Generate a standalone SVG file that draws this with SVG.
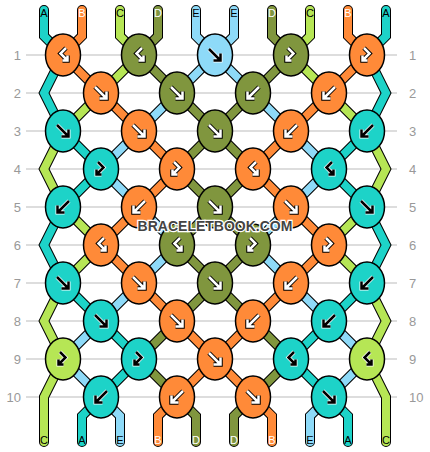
<svg xmlns="http://www.w3.org/2000/svg" xmlns:xlink="http://www.w3.org/1999/xlink" width="430" height="452" viewBox="0 0 430 452">
<style>
.grid{stroke:#bbb;stroke-width:1.2}
.num{font-family:"Liberation Sans",Arial,sans-serif;font-size:13px;fill:#999}
.lab{font-family:"Liberation Sans",Arial,sans-serif;font-size:11px;text-anchor:middle}
.s{fill:none;stroke-linejoin:miter;stroke-linecap:round}
.so{stroke:#000;stroke-width:10}
.sT{stroke:#1dd3c8;stroke-width:8}
.sO{stroke:#ff8a38;stroke-width:8}
.sG{stroke:#b6e655;stroke-width:8}
.sV{stroke:#80963e;stroke-width:8}
.sL{stroke:#8edaf8;stroke-width:8}
.k{stroke:#000;stroke-width:1.5}
.cT{fill:#1dd3c8}.cO{fill:#ff8a38}.cG{fill:#b6e655}.cV{fill:#80963e}.cL{fill:#8edaf8}
.wo{fill:none;stroke:#000;stroke-width:4.5}
.wi{fill:none;stroke:#fff;stroke-width:2.5}
.bo{fill:none;stroke:#fff;stroke-width:4}
.bi{fill:none;stroke:#000;stroke-width:2.5}
.wm{font-family:"Liberation Sans",Arial,sans-serif;font-weight:bold;font-size:14px;fill:#444;stroke:#fff;stroke-width:2.5;paint-order:stroke;text-anchor:middle}
</style>
<defs>
<path id="f" d="M-6,-6 L5,5 M5.5,-1.5 L5.5,5.5 L-1.5,5.5"/>
<path id="b" d="M6,-6 L-5,5 M-5.5,-1.5 L-5.5,5.5 L1.5,5.5"/>
<path id="fb" d="M-3,-7 L2.5,-1.5 L-4.5,5.5 M-4.5,0.5 L-4.5,5.5 L0.5,5.5"/>
<path id="bf" d="M3,-7 L-2.5,-1.5 L4.5,5.5 M4.5,0.5 L4.5,5.5 L-0.5,5.5"/>
</defs>
<g id="grid">
<line class="grid" x1="26" y1="55" x2="397" y2="55"/>
<line class="grid" x1="26" y1="93" x2="397" y2="93"/>
<line class="grid" x1="26" y1="131" x2="397" y2="131"/>
<line class="grid" x1="26" y1="169" x2="397" y2="169"/>
<line class="grid" x1="26" y1="207" x2="397" y2="207"/>
<line class="grid" x1="26" y1="245" x2="397" y2="245"/>
<line class="grid" x1="26" y1="283" x2="397" y2="283"/>
<line class="grid" x1="26" y1="321" x2="397" y2="321"/>
<line class="grid" x1="26" y1="359" x2="397" y2="359"/>
<line class="grid" x1="26" y1="397" x2="397" y2="397"/>
</g>
<g id="rownums">
<g class="num" text-anchor="end">
<text x="21" y="60">1</text><text x="21" y="98">2</text><text x="21" y="136">3</text><text x="21" y="174">4</text><text x="21" y="212">5</text><text x="21" y="250">6</text><text x="21" y="288">7</text><text x="21" y="326">8</text><text x="21" y="364">9</text><text x="21" y="402">10</text>
</g>
<g class="num">
<text x="409" y="60">1</text><text x="409" y="98">2</text><text x="409" y="136">3</text><text x="409" y="174">4</text><text x="409" y="212">5</text><text x="409" y="250">6</text><text x="409" y="288">7</text><text x="409" y="326">8</text><text x="409" y="364">9</text><text x="409" y="402">10</text>
</g>
</g>
<g id="connectors">
<g class="s so">
<path id="o1" d="M44,10 L44,36 L63,55 L44,93 L63,131 L101,169 L63,207 L44,245 L63,283 L101,321 L139,359 L101,397 L82,416 L82,442"/>
<path id="o2" d="M82,10 L82,36 L63,55 L101,93 L139,131 L177,169 L139,207 L101,245 L139,283 L177,321 L215,359 L253,397 L272,416 L272,442"/>
<path id="o3" d="M120,10 L120,36 L139,55 L101,93 L63,131 L44,169 L63,207 L101,245 L63,283 L44,321 L63,359 L44,397 L44,442"/>
<path id="o4" d="M158,10 L158,36 L139,55 L177,93 L215,131 L253,169 L215,207 L177,245 L215,283 L253,321 L291,359 L253,397 L234,416 L234,442"/>
<path id="o5" d="M196,10 L196,36 L215,55 L253,93 L291,131 L329,169 L291,207 L253,245 L291,283 L329,321 L367,359 L329,397 L310,416 L310,442"/>
<path id="o6" d="M234,10 L234,36 L215,55 L177,93 L139,131 L101,169 L139,207 L177,245 L139,283 L101,321 L63,359 L101,397 L120,416 L120,442"/>
<path id="o7" d="M272,10 L272,36 L291,55 L253,93 L215,131 L177,169 L215,207 L253,245 L215,283 L177,321 L139,359 L177,397 L196,416 L196,442"/>
<path id="o8" d="M310,10 L310,36 L291,55 L329,93 L367,131 L386,169 L367,207 L329,245 L367,283 L386,321 L367,359 L386,397 L386,442"/>
<path id="o9" d="M348,10 L348,36 L367,55 L329,93 L291,131 L253,169 L291,207 L329,245 L291,283 L253,321 L215,359 L177,397 L158,416 L158,442"/>
<path id="o10" d="M386,10 L386,36 L367,55 L386,93 L367,131 L329,169 L367,207 L386,245 L367,283 L329,321 L291,359 L329,397 L348,416 L348,442"/>
</g>
<g class="s">
<use xlink:href="#o1" href="#o1" class="sT"/>
<use xlink:href="#o2" href="#o2" class="sO"/>
<use xlink:href="#o3" href="#o3" class="sG"/>
<use xlink:href="#o4" href="#o4" class="sV"/>
<use xlink:href="#o5" href="#o5" class="sL"/>
<use xlink:href="#o6" href="#o6" class="sL"/>
<use xlink:href="#o7" href="#o7" class="sV"/>
<use xlink:href="#o8" href="#o8" class="sG"/>
<use xlink:href="#o9" href="#o9" class="sO"/>
<use xlink:href="#o10" href="#o10" class="sT"/>
</g>
</g>
<g id="labels" class="lab">
<text x="44" y="17" fill="#000">A</text><text x="82" y="17" fill="#fff">B</text><text x="120" y="17" fill="#000">C</text><text x="158" y="17" fill="#fff">D</text><text x="196" y="17" fill="#000">E</text>
<text x="234" y="17" fill="#000">E</text><text x="272" y="17" fill="#fff">D</text><text x="310" y="17" fill="#000">C</text><text x="348" y="17" fill="#fff">B</text><text x="386" y="17" fill="#000">A</text>
<text x="44" y="444" fill="#000">C</text><text x="82" y="444" fill="#000">A</text><text x="120" y="444" fill="#000">E</text><text x="158" y="444" fill="#fff">B</text><text x="196" y="444" fill="#fff">D</text>
<text x="234" y="444" fill="#fff">D</text><text x="272" y="444" fill="#fff">B</text><text x="310" y="444" fill="#000">E</text><text x="348" y="444" fill="#000">A</text><text x="386" y="444" fill="#000">C</text>
</g>
<g id="knots">
<g id="k1-1" transform="translate(63,55)"><ellipse class="k cO" rx="17.5" ry="21"/><use href="#bf" class="wo"/><use href="#bf" class="wi"/></g>
<g id="k1-2" transform="translate(139,55)"><ellipse class="k cV" rx="17.5" ry="21"/><use href="#bf" class="wo"/><use href="#bf" class="wi"/></g>
<g id="k1-3" transform="translate(215,55)"><ellipse class="k cL" rx="17.5" ry="21"/><use href="#f" class="bo"/><use href="#f" class="bi"/></g>
<g id="k1-4" transform="translate(291,55)"><ellipse class="k cV" rx="17.5" ry="21"/><use href="#fb" class="wo"/><use href="#fb" class="wi"/></g>
<g id="k1-5" transform="translate(367,55)"><ellipse class="k cO" rx="17.5" ry="21"/><use href="#fb" class="wo"/><use href="#fb" class="wi"/></g>

<g id="k2-1" transform="translate(101,93)"><ellipse class="k cO" rx="17.5" ry="21"/><use href="#f" class="wo"/><use href="#f" class="wi"/></g>
<g id="k2-2" transform="translate(177,93)"><ellipse class="k cV" rx="17.5" ry="21"/><use href="#f" class="wo"/><use href="#f" class="wi"/></g>
<g id="k2-3" transform="translate(253,93)"><ellipse class="k cV" rx="17.5" ry="21"/><use href="#b" class="wo"/><use href="#b" class="wi"/></g>
<g id="k2-4" transform="translate(329,93)"><ellipse class="k cO" rx="17.5" ry="21"/><use href="#b" class="wo"/><use href="#b" class="wi"/></g>

<g id="k3-1" transform="translate(63,131)"><ellipse class="k cT" rx="17.5" ry="21"/><use href="#f" class="bo"/><use href="#f" class="bi"/></g>
<g id="k3-2" transform="translate(139,131)"><ellipse class="k cO" rx="17.5" ry="21"/><use href="#f" class="wo"/><use href="#f" class="wi"/></g>
<g id="k3-3" transform="translate(215,131)"><ellipse class="k cV" rx="17.5" ry="21"/><use href="#f" class="wo"/><use href="#f" class="wi"/></g>
<g id="k3-4" transform="translate(291,131)"><ellipse class="k cO" rx="17.5" ry="21"/><use href="#b" class="wo"/><use href="#b" class="wi"/></g>
<g id="k3-5" transform="translate(367,131)"><ellipse class="k cT" rx="17.5" ry="21"/><use href="#b" class="bo"/><use href="#b" class="bi"/></g>

<g id="k4-1" transform="translate(101,169)"><ellipse class="k cT" rx="17.5" ry="21"/><use href="#fb" class="bo"/><use href="#fb" class="bi"/></g>
<g id="k4-2" transform="translate(177,169)"><ellipse class="k cO" rx="17.5" ry="21"/><use href="#fb" class="wo"/><use href="#fb" class="wi"/></g>
<g id="k4-3" transform="translate(253,169)"><ellipse class="k cO" rx="17.5" ry="21"/><use href="#bf" class="wo"/><use href="#bf" class="wi"/></g>
<g id="k4-4" transform="translate(329,169)"><ellipse class="k cT" rx="17.5" ry="21"/><use href="#bf" class="bo"/><use href="#bf" class="bi"/></g>

<g id="k5-1" transform="translate(63,207)"><ellipse class="k cT" rx="17.5" ry="21"/><use href="#b" class="bo"/><use href="#b" class="bi"/></g>
<g id="k5-2" transform="translate(139,207)"><ellipse class="k cO" rx="17.5" ry="21"/><use href="#b" class="wo"/><use href="#b" class="wi"/></g>
<g id="k5-3" transform="translate(215,207)"><ellipse class="k cV" rx="17.5" ry="21"/><use href="#f" class="wo"/><use href="#f" class="wi"/></g>
<g id="k5-4" transform="translate(291,207)"><ellipse class="k cO" rx="17.5" ry="21"/><use href="#f" class="wo"/><use href="#f" class="wi"/></g>
<g id="k5-5" transform="translate(367,207)"><ellipse class="k cT" rx="17.5" ry="21"/><use href="#f" class="bo"/><use href="#f" class="bi"/></g>

<g id="k6-1" transform="translate(101,245)"><ellipse class="k cO" rx="17.5" ry="21"/><use href="#bf" class="wo"/><use href="#bf" class="wi"/></g>
<g id="k6-2" transform="translate(177,245)"><ellipse class="k cV" rx="17.5" ry="21"/><use href="#bf" class="wo"/><use href="#bf" class="wi"/></g>
<g id="k6-3" transform="translate(253,245)"><ellipse class="k cV" rx="17.5" ry="21"/><use href="#fb" class="wo"/><use href="#fb" class="wi"/></g>
<g id="k6-4" transform="translate(329,245)"><ellipse class="k cO" rx="17.5" ry="21"/><use href="#fb" class="wo"/><use href="#fb" class="wi"/></g>

<g id="k7-1" transform="translate(63,283)"><ellipse class="k cT" rx="17.5" ry="21"/><use href="#f" class="bo"/><use href="#f" class="bi"/></g>
<g id="k7-2" transform="translate(139,283)"><ellipse class="k cO" rx="17.5" ry="21"/><use href="#f" class="wo"/><use href="#f" class="wi"/></g>
<g id="k7-3" transform="translate(215,283)"><ellipse class="k cV" rx="17.5" ry="21"/><use href="#f" class="wo"/><use href="#f" class="wi"/></g>
<g id="k7-4" transform="translate(291,283)"><ellipse class="k cO" rx="17.5" ry="21"/><use href="#b" class="wo"/><use href="#b" class="wi"/></g>
<g id="k7-5" transform="translate(367,283)"><ellipse class="k cT" rx="17.5" ry="21"/><use href="#b" class="bo"/><use href="#b" class="bi"/></g>

<g id="k8-1" transform="translate(101,321)"><ellipse class="k cT" rx="17.5" ry="21"/><use href="#f" class="bo"/><use href="#f" class="bi"/></g>
<g id="k8-2" transform="translate(177,321)"><ellipse class="k cO" rx="17.5" ry="21"/><use href="#f" class="wo"/><use href="#f" class="wi"/></g>
<g id="k8-3" transform="translate(253,321)"><ellipse class="k cO" rx="17.5" ry="21"/><use href="#b" class="wo"/><use href="#b" class="wi"/></g>
<g id="k8-4" transform="translate(329,321)"><ellipse class="k cT" rx="17.5" ry="21"/><use href="#b" class="bo"/><use href="#b" class="bi"/></g>

<g id="k9-1" transform="translate(63,359)"><ellipse class="k cG" rx="17.5" ry="21"/><use href="#fb" class="bo"/><use href="#fb" class="bi"/></g>
<g id="k9-2" transform="translate(139,359)"><ellipse class="k cT" rx="17.5" ry="21"/><use href="#fb" class="bo"/><use href="#fb" class="bi"/></g>
<g id="k9-3" transform="translate(215,359)"><ellipse class="k cO" rx="17.5" ry="21"/><use href="#f" class="wo"/><use href="#f" class="wi"/></g>
<g id="k9-4" transform="translate(291,359)"><ellipse class="k cT" rx="17.5" ry="21"/><use href="#bf" class="bo"/><use href="#bf" class="bi"/></g>
<g id="k9-5" transform="translate(367,359)"><ellipse class="k cG" rx="17.5" ry="21"/><use href="#bf" class="bo"/><use href="#bf" class="bi"/></g>

<g id="k10-1" transform="translate(101,397)"><ellipse class="k cT" rx="17.5" ry="21"/><use href="#b" class="bo"/><use href="#b" class="bi"/></g>
<g id="k10-2" transform="translate(177,397)"><ellipse class="k cO" rx="17.5" ry="21"/><use href="#b" class="wo"/><use href="#b" class="wi"/></g>
<g id="k10-3" transform="translate(253,397)"><ellipse class="k cO" rx="17.5" ry="21"/><use href="#f" class="wo"/><use href="#f" class="wi"/></g>
<g id="k10-4" transform="translate(329,397)"><ellipse class="k cT" rx="17.5" ry="21"/><use href="#f" class="bo"/><use href="#f" class="bi"/></g>
</g>
<text id="watermark" class="wm" x="215" y="231">BRACELETBOOK.COM</text>
</svg>
